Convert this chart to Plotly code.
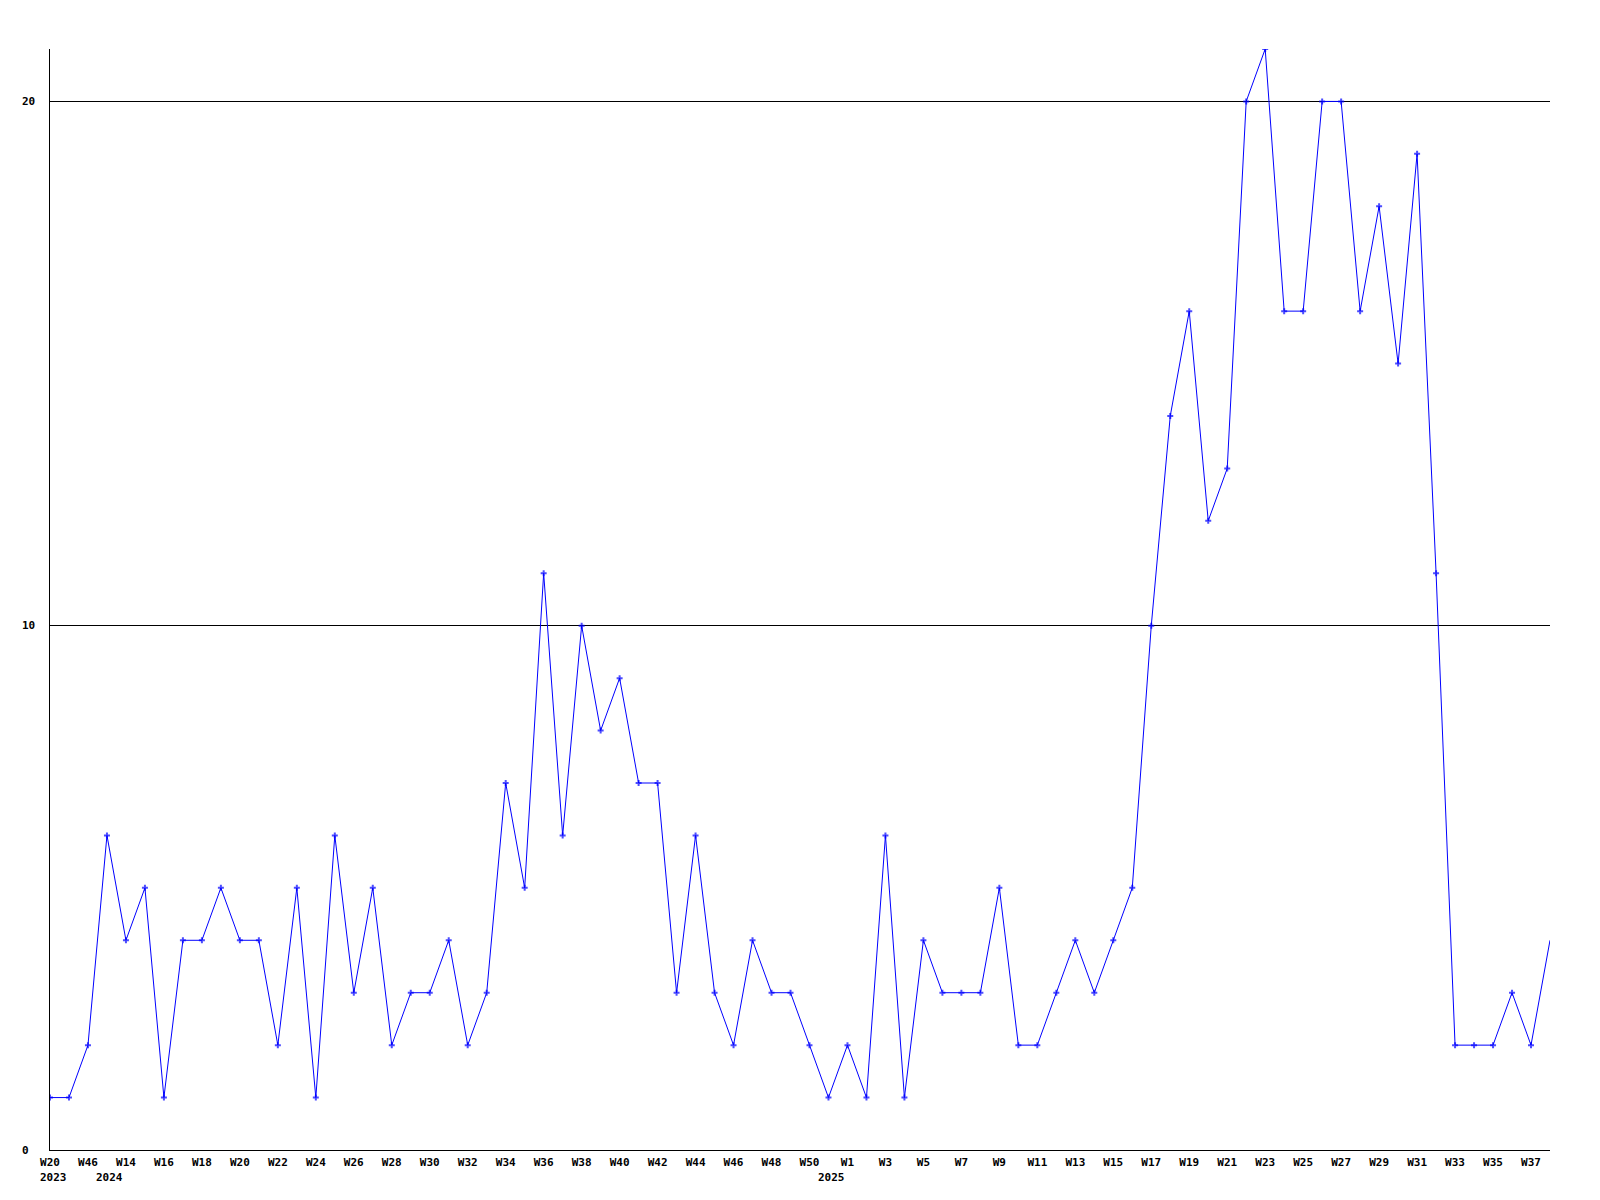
import plotly.graph_objects as go

# Week categories (one per data point), in order
weeks = ["W20", "W40", "W46", "W2", "W14", "W15", "W16", "W17", "W18", "W19",
         "W20", "W21", "W22", "W23", "W24", "W25", "W26", "W27", "W28", "W29",
         "W30", "W31", "W32", "W33", "W34", "W35", "W36", "W37", "W38", "W39",
         "W40", "W41", "W42", "W43", "W44", "W45", "W46", "W47", "W48", "W49",
         "W50", "W51", "W1", "W2", "W3", "W4", "W5", "W6", "W7", "W8",
         "W9", "W10", "W11", "W12", "W13", "W14", "W15", "W16", "W17", "W18",
         "W19", "W20", "W21", "W22", "W23", "W24", "W25", "W26", "W27", "W28",
         "W29", "W30", "W31", "W32", "W33", "W34", "W35", "W36", "W37", "W38"]

counts = [1, 1, 2, 6, 4, 5, 1, 4, 4, 5,
          4, 4, 2, 5, 1, 6, 3, 5, 2, 3,
          3, 4, 2, 3, 7, 5, 11, 6, 10, 8,
          9, 7, 7, 3, 6, 3, 2, 4, 3, 3,
          2, 1, 2, 1, 6, 1, 4, 3, 3, 3,
          5, 2, 2, 3, 4, 3, 4, 5, 10, 14,
          16, 12, 13, 20, 21, 16, 16, 20, 20, 16,
          18, 15, 19, 11, 2, 2, 2, 3, 2, 4]

# Year labels and the point index they sit under
year_labels = ["2023", "2024", "2025"]
year_positions = [0, 3, 41]

y_ticks = [0, 10, 20]

idx = list(range(len(counts)))
tick_idx = idx[::2]
tick_text = [weeks[i] for i in tick_idx]

font = dict(family="DejaVu Sans Mono", size=11, color="black")

# the last (current, partial) week is drawn without a marker
marker_sizes = [5] * (len(counts) - 1) + [0]

fig = go.Figure()
fig.add_trace(go.Scatter(
    x=idx, y=counts, mode="lines+markers",
    line=dict(color="#0000FF", width=1),
    marker=dict(symbol="cross", size=marker_sizes, color="#0000FF", line=dict(width=0)),
    hoverinfo="x+y",
))

annotations = []
for lab, pos in zip(year_labels, year_positions):
    annotations.append(dict(x=pos, y=0, xref="x", yref="paper", text="<b>%s</b>" % lab,
                            showarrow=False, xanchor="center", yanchor="top",
                            xshift=3, yshift=-19, font=font))
for v in y_ticks:
    annotations.append(dict(x=-0.02, y=v, xref="paper", yref="y", text="<b>%d</b>" % v,
                            showarrow=False, xanchor="left", yanchor="middle",
                            font=font))

# page body adds an 8px offset; size the figure to fill the rest of the window
fig.update_layout(
    width=1592, height=1192,
    margin=dict(l=42, r=50, t=41, b=50),
    paper_bgcolor="white", plot_bgcolor="white",
    showlegend=False,
    annotations=annotations,
    xaxis=dict(
        range=[0, len(counts) - 1],
        tickvals=tick_idx,
        ticktext=["<b>%s</b>" % t for t in tick_text],
        tickfont=font,
        showgrid=False, zeroline=False,
        showline=True, linecolor="black", linewidth=1,
        ticks="outside", ticklen=2, tickcolor="rgba(0,0,0,0)",
    ),
    yaxis=dict(
        range=[0, 21],
        tickvals=[10, 20],
        showticklabels=False,
        showgrid=True, gridcolor="black", gridwidth=1,
        zeroline=False,
        showline=True, linecolor="black", linewidth=1,
        ticks="",
    ),
)

fig.write_html("out.html")
